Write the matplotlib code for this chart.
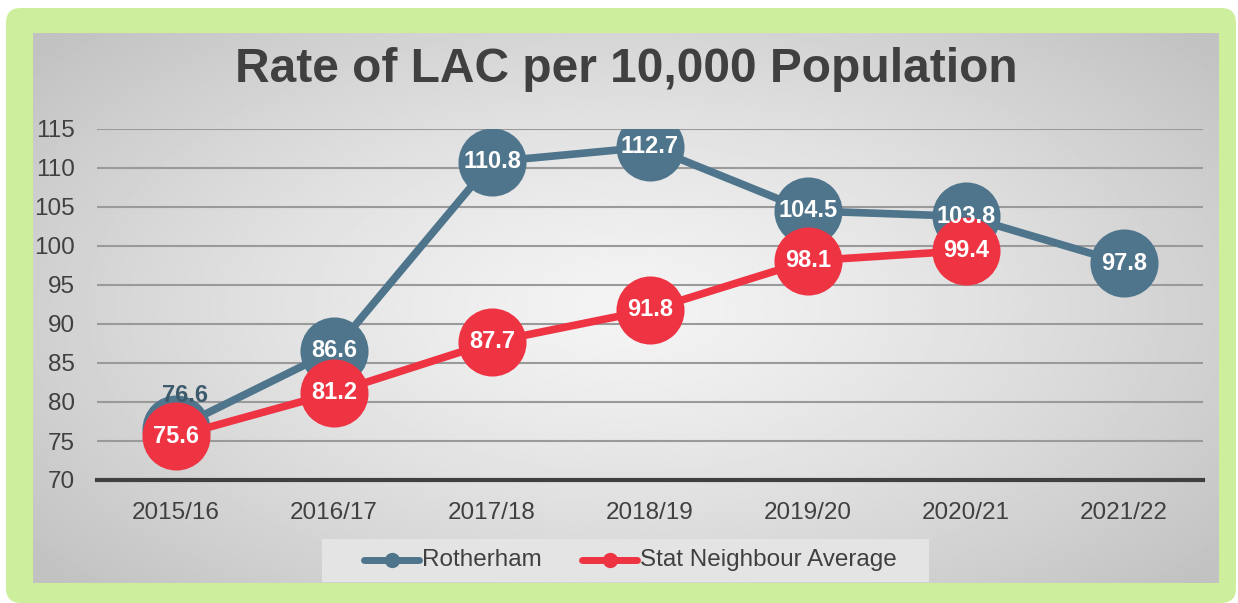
import numpy as np
import matplotlib.pyplot as plt
from matplotlib.patches import FancyBboxPatch, Rectangle
from matplotlib.lines import Line2D

plt.rcParams["font.family"] = ["Liberation Sans", "DejaVu Sans"]

categories = ["2015/16", "2016/17", "2017/18", "2018/19", "2019/20", "2020/21", "2021/22"]
rotherham = [76.6, 86.6, 110.8, 112.7, 104.5, 103.8, 97.8]
stat_neighbour = [75.6, 81.2, 87.7, 91.8, 98.1, 99.4, None]
yticks = [70, 75, 80, 85, 90, 95, 100, 105, 110, 115]

W, H = 1238, 603
fig = plt.figure(figsize=(W / 100, H / 100), dpi=100)
fig.patch.set_facecolor("white")

def fx(px):
    return px / W

def fy(py):
    return 1 - py / H

# green frame
frame = FancyBboxPatch((fx(6), fy(603)), fx(1236) - fx(6), fy(8) - fy(603),
                       boxstyle="round,pad=0,rounding_size=0.012",
                       transform=fig.transFigure, facecolor="#cdee9c",
                       edgecolor="none", zorder=0, mutation_aspect=W / H)
fig.patches.append(frame)

# gradient panel
bg = fig.add_axes([fx(33), fy(583), fx(1219) - fx(33), fy(33) - fy(583)], zorder=0.5)
yy, xx = np.mgrid[-1:1:300j, -1:1:600j]
r = np.sqrt((xx * 0.85) ** 2 + (yy * 0.75) ** 2)
r = np.clip(r / 1.1, 0, 1)
light, dark = 0.955, 0.76
img = light - (light - dark) * r ** 1.3
bg.imshow(img, cmap="gray", vmin=0, vmax=1, aspect="auto", extent=[0, 1, 0, 1])
bg.set_axis_off()

ax = fig.add_axes([fx(97), fy(480), fx(1203) - fx(97), fy(129) - fy(480)], zorder=1)
ax.patch.set_alpha(0)
x = np.arange(len(categories))
ax.set_xlim(-0.5, len(categories) - 0.5)
ax.set_ylim(70, 115)
ax.set_yticks(yticks)
ax.set_xticks(x)
ax.set_xticklabels(categories)
ax.tick_params(length=0, labelsize=17.5, labelcolor="#404040")
ax.tick_params(axis="x", pad=16)
ax.tick_params(axis="y", pad=16)
for s in ["top", "right", "left"]:
    ax.spines[s].set_visible(False)
ax.spines["bottom"].set_color("#404040")
ax.spines["bottom"].set_linewidth(3)
ax.grid(axis="y", color="#9a9a9a", linewidth=1.5)
ax.set_axisbelow(True)

blue = "#4e758c"
red = "#ee3343"

ax.plot(x, rotherham, color=blue, linewidth=5.5, marker="o", markersize=49,
        markeredgewidth=0, zorder=3, solid_capstyle="round")
sx = [i for i, v in enumerate(stat_neighbour) if v is not None]
sv = [v for v in stat_neighbour if v is not None]
ax.plot(sx, sv, color=red, linewidth=5.5, marker="o", markersize=49,
        markeredgewidth=0, zorder=4, solid_capstyle="round")

for i, v in enumerate(rotherham):
    if i == 0:
        ax.text(i + 0.06, v + 4.2, f"{v:.1f}", ha="center", va="center", fontsize=17,
                fontweight="bold", color="#3c5a6c", zorder=5)
    else:
        ax.text(i, v, f"{v:.1f}", ha="center", va="center", fontsize=17,
                fontweight="bold", color="white", zorder=5)
for i, v in zip(sx, sv):
    ax.text(i, v, f"{v:.1f}", ha="center", va="center", fontsize=17,
            fontweight="bold", color="white", zorder=6)

fig.text(fx(626), fy(70), "Rate of LAC per 10,000 Population", ha="center", va="center",
         fontsize=34.5, fontweight="bold", color="#404040")

# legend box
leg_bg = Rectangle((fx(322), fy(582)), fx(929) - fx(322), fy(539) - fy(582),
                   transform=fig.transFigure, facecolor="#e4e4e4", edgecolor="none", zorder=2)
fig.patches.append(leg_bg)
for (x0, x1, col, label) in [(364, 419, blue, "Rotherham"), (582, 637, red, "Stat Neighbour Average")]:
    fig.lines.append(Line2D([fx(x0), fx(x1)], [fy(560), fy(560)], transform=fig.transFigure,
                            color=col, linewidth=5, solid_capstyle="round", zorder=3))
    fig.lines.append(Line2D([fx((x0 + x1) / 2)], [fy(560)], transform=fig.transFigure,
                            color=col, marker="o", markersize=11, markeredgewidth=0, zorder=3))
    fig.text(fx(x1 + 3), fy(560), label, ha="left", va="center", fontsize=17.5,
             color="#404040", zorder=4)

fig.savefig("out.png", dpi=100)
